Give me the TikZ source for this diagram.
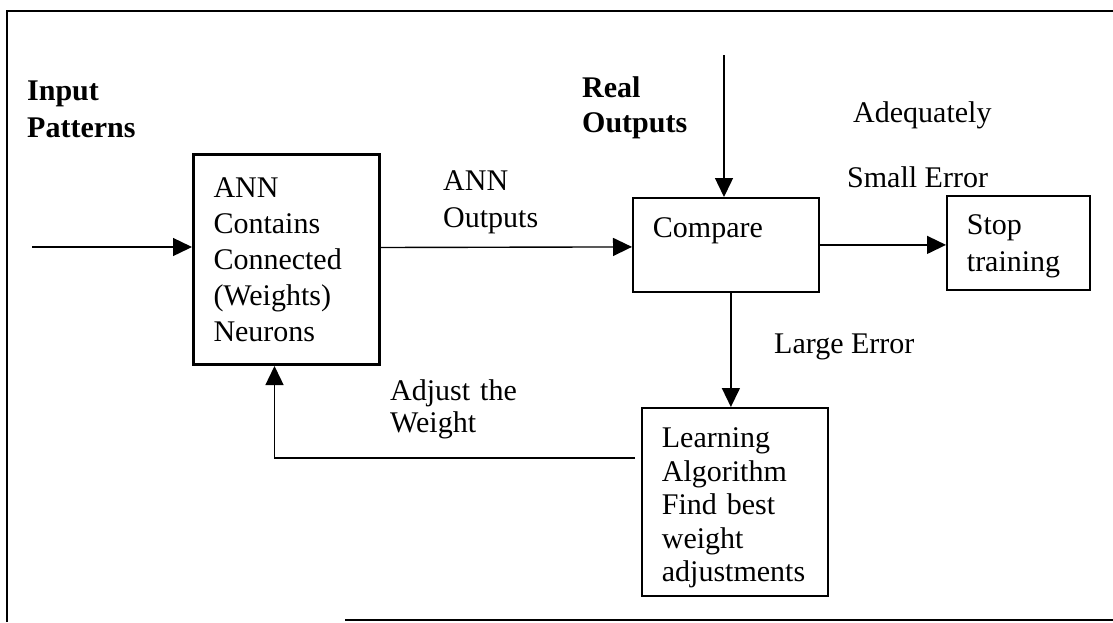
\documentclass[tikz,border=0pt]{standalone}
\usepackage{fontspec}
\setmainfont{Liberation Serif}
\usetikzlibrary{arrows.meta}
\begin{document}
\begin{tikzpicture}[x=1pt,y=1pt,
  txt/.style={font=\fontsize{30}{36}\selectfont, inner sep=0pt},
  lbl/.style={txt, anchor=base west, align=left},
  bold/.style={lbl, font=\fontsize{30}{36}\selectfont\bfseries},
  blk/.style={txt, draw, line width=1.8pt, anchor=north west, align=left, inner xsep=20pt},
  conn/.style={line width=1.4pt, -{Triangle[length=19pt,width=18pt]}},
  wire/.style={line width=1.4pt}
]
\useasboundingbox (0,0) rectangle (1113,-622);

% partial outer frame
\draw[line width=2pt] (7,-622) -- (7,-11) -- (1113,-11);
\draw[line width=2pt] (345,-620) -- (1113,-620);

% blocks
\node[blk, line width=3pt, text width=146pt, minimum width=186pt, minimum height=210pt]
  (ann) at (192,-153) {ANN\\Contains\\Connected\\(Weights)\\Neurons};
\node[blk, text width=146pt, minimum width=186pt, minimum height=94pt,
  text height=20pt, text depth=34pt, inner ysep=0pt]
  (cmp) at (632,-197) {Compare};
\node[blk, text width=103pt, minimum width=143pt, minimum height=94pt,
  font=\fontsize{30}{37}\selectfont]
  (stop) at (946,-195) {\rule{0pt}{27pt}Stop\\training};
\node[blk, text width=146pt, minimum width=186pt, minimum height=188pt,
  font=\fontsize{30}{33.5}\selectfont]
  (learn) at (641,-407) {\rule{0pt}{32pt}Learning\\Algorithm\\Find best\\weight\\adjustments};

% labels
\node[bold, text width=160pt] (lin) at (27,-100) {Input\\[1pt]Patterns};
\node[bold, text width=160pt] (lreal) at (582,-97) {Real\\[-1pt]Outputs};
\node[lbl, text width=160pt] (lann) at (443,-190) {ANN\\[1pt]Outputs};
\node[lbl] (lade) at (853,-122) {Adequately};
\node[lbl] (lsmall) at (847,-187) {Small Error};
\node[lbl] (llarge) at (774,-353) {Large Error};
\node[lbl, text width=160pt, font=\fontsize{30}{32}\selectfont] (ladj) at (390,-400) {Adjust the\\Weight};

% free ends of the two incoming lines
\coordinate (src) at (32,-247);
\coordinate (real) at (724,-55);

% connectors
\draw[conn] (src) -- (ann.west |- src);
\draw[conn] (real) -- (real |- cmp.north);
\draw[conn] ([yshift=12pt]ann.east) -- ([yshift=-2pt]cmp.west);
\draw[conn] (cmp.east) -- (stop.west |- cmp.east);
\draw[conn] ([xshift=5pt]cmp.south) -- ([xshift=5pt]cmp.south |- learn.north);
\draw[conn] ([xshift=-6pt,yshift=44pt]learn.west) -| ([xshift=-12pt]ann.south);
\end{tikzpicture}
\end{document}
